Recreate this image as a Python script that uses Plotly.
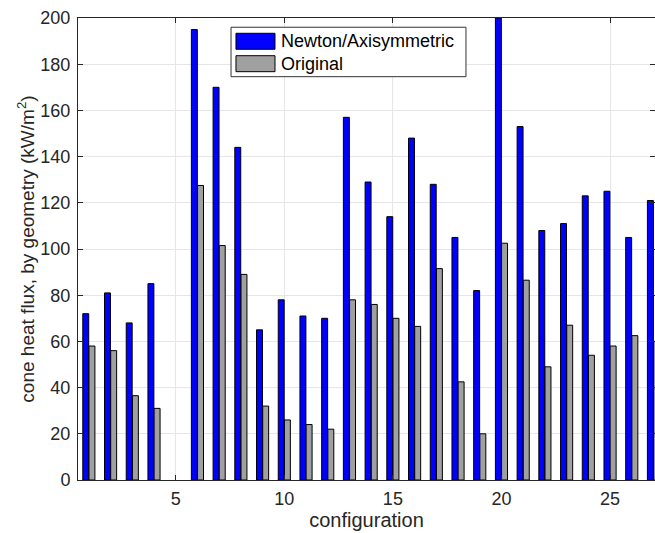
import plotly.graph_objects as go

# Configurations and cone heat flux per geometry (kW/m^2); configuration 5 has no data
configs = list(range(1, 28))
newton_axisym = [72, 81, 68, 85, None, 195, 170, 144, 65, 78, 71, 70, 157, 129, 114,
                 148, 128, 105, 82, 200, 153, 108, 111, 123, 125, 105, 121]
original = [58, 56, 36.5, 31, None, 127.5, 101.5, 89, 32, 26, 24, 22, 78, 76, 70,
            66.5, 91.5, 42.5, 20, 102.5, 86.5, 49, 67, 54, 58, 62.5, 60]
series_names = ["Newton/Axisymmetric", "Original"]
series_colors = ["#0000ff", "#a0a0a0"]

x_ticks = [5, 10, 15, 20, 25]
y_ticks = list(range(0, 201, 20))

FONT = "Liberation Sans, Arial, Helvetica, sans-serif"
AX = "#262626"

fig = go.Figure()
for name, vals, col in zip(series_names, [newton_axisym, original], series_colors):
    fig.add_trace(go.Bar(
        x=configs, y=vals, name=name, showlegend=False,
        marker=dict(color=col, line=dict(color="black", width=1)),
    ))

# Boxed legend with wide rectangular swatches
legend_box = dict(x0=0.2652, x1=0.6724, y0=0.873, y1=0.980)
swatch_x = (0.2738, 0.3414)
row_y = [(0.9323, 0.9669), (0.8838, 0.9184)]
fig.add_shape(type="rect", xref="paper", yref="paper", **legend_box,
              fillcolor="white", line=dict(color="#333333", width=1), layer="above")
for name, col, (y0, y1) in zip(series_names, series_colors, row_y):
    fig.add_shape(type="rect", xref="paper", yref="paper",
                  x0=swatch_x[0], x1=swatch_x[1], y0=y0, y1=y1,
                  fillcolor=col, line=dict(color="black", width=1), layer="above")
    fig.add_annotation(xref="paper", yref="paper", x=0.3492, y=(y0 + y1) / 2,
                       text=name, showarrow=False, xanchor="left", yanchor="middle",
                       font=dict(family=FONT, size=18, color="black"))

fig.update_layout(
    width=655, height=533,
    margin=dict(l=78, r=0, t=18, b=53),
    paper_bgcolor="white", plot_bgcolor="white",
    barmode="group", bargap=0.43, bargroupgap=0.04,
    font=dict(family=FONT, size=18, color=AX),
    showlegend=False,
)

fig.update_xaxes(
    range=[0.5, 27.07], tickvals=x_ticks,
    showgrid=True, gridcolor="#e6e6e6", gridwidth=1,
    showline=True, linecolor=AX, linewidth=1, mirror="ticks",
    ticks="inside", ticklen=5, tickcolor=AX,
    zeroline=False, ticklabelstandoff=2,
    tickfont=dict(family=FONT, size=18, color=AX),
    title=dict(text="configuration", font=dict(family=FONT, size=20, color=AX), standoff=3),
)
fig.update_yaxes(
    range=[0, 200], tickvals=y_ticks,
    showgrid=True, gridcolor="#e6e6e6", gridwidth=1,
    showline=True, linecolor=AX, linewidth=1, mirror="ticks",
    ticks="inside", ticklen=5, tickcolor=AX,
    zeroline=False, ticklabelstandoff=3,
    tickfont=dict(family=FONT, size=18, color=AX),
    title=dict(text="cone heat flux, by geometry (kW/m<sup>2</sup>)",
               font=dict(family=FONT, size=19, color=AX), standoff=0),
)

fig.write_html("out.html")
